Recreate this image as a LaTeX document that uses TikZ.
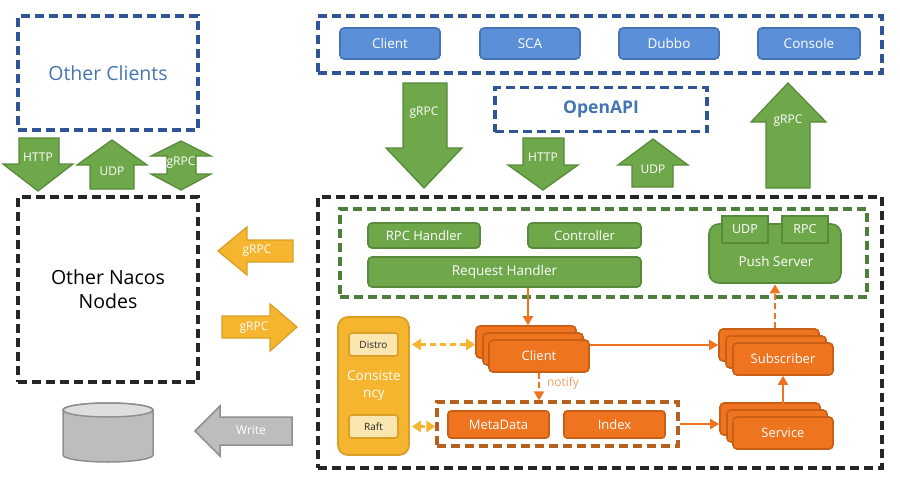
\documentclass[tikz,border=0pt]{standalone}
\usepackage{fontspec}
\setmainfont{Open Sans}
\usetikzlibrary{arrows.meta}
\definecolor{gfill}{HTML}{6FA84B}
\definecolor{gline}{HTML}{578A3A}
\definecolor{gdash}{HTML}{4E7F3A}
\definecolor{bfill}{HTML}{5B90D8}
\definecolor{bline}{HTML}{4474B4}
\definecolor{bdash}{HTML}{2F5597}
\definecolor{ofill}{HTML}{EE7420}
\definecolor{oline}{HTML}{C85F14}
\definecolor{odash}{HTML}{B5601F}
\definecolor{yfill}{HTML}{F5B52E}
\definecolor{yline}{HTML}{D9A028}
\definecolor{ylight}{HTML}{FBE6B0}
\definecolor{gyfill}{HTML}{BDBDBD}
\definecolor{gyline}{HTML}{8F8F8F}
\tikzset{
  lbl/.style={text=white,font=\fontsize{#1}{#1}\selectfont,inner sep=0pt},
  lbl/.default=12,
  dbox/.style={draw=#1,line width=3.2pt,dash pattern=on 9pt off 5pt,fill=none},
  btn/.style={draw=bline,fill=bfill,line width=1.6pt,rounded corners=4pt,text=white,font=\fontsize{13.5}{13.5}\selectfont,minimum width=100pt,minimum height=31pt,inner sep=0pt},
  gbox/.style={draw=gline,fill=gfill,line width=1.6pt,rounded corners=4pt,text=white,font=\fontsize{13}{13}\selectfont,inner sep=0pt},
  obox/.style={draw=oline,fill=ofill,line width=1.6pt,rounded corners=4pt,text=white,font=\fontsize{13}{13}\selectfont,inner sep=0pt,minimum width=100pt,minimum height=32pt},
  ibox/.style={draw=oline,fill=ofill,line width=1.6pt,rounded corners=3pt,text=white,font=\fontsize{13}{13}\selectfont,inner sep=0pt,minimum width=101pt,minimum height=27pt},
  tabbox/.style={draw=gline,fill=gfill,line width=1.6pt,text=white,font=\fontsize{12.5}{12.5}\selectfont,inner sep=0pt,minimum width=46pt,minimum height=27pt},
  ylbox/.style={draw=yline,fill=ylight,line width=1.6pt,rounded corners=3pt,text=black!85,font=\fontsize{10}{10}\selectfont,inner sep=0pt,minimum width=49pt,minimum height=23pt},
  garrow/.style={draw=gline,fill=gfill,line width=1.3pt},
  yarrow/.style={draw=yline,fill=yfill,line width=1.3pt},
  grarrow/.style={draw=gyline,fill=gyfill,line width=1.5pt},
  oconn/.style={draw=ofill,line width=2pt,-{Triangle[length=9pt,width=10pt]}},
  odashed/.style={oconn,dash pattern=on 6pt off 3.5pt},
  yconn/.style={draw=yfill,line width=2.2pt,dash pattern=on 6pt off 4pt,{Triangle[length=9pt,width=11pt]}-{Triangle[length=9pt,width=11pt]}},
}
\begin{document}
\begin{tikzpicture}[x=1pt,y=-1pt]
\useasboundingbox (0,0) rectangle (900,479);
% dashed frames
\node[dbox=bdash,minimum width=180pt,minimum height=114pt,inner sep=0pt,text=bline,font=\fontsize{19.5}{19.5}\selectfont] (clients) at (108,73) {Other Clients};
\node[dbox=bdash,minimum width=564pt,minimum height=57pt,inner sep=0pt] (topframe) at (600,44.5) {};
\node[dbox=bdash,minimum width=212pt,minimum height=44pt,inner sep=0pt,text=bline,font=\bfseries\fontsize{17.5}{17.5}\selectfont] (openapi) at (601,109.5) {OpenAPI};
\node[dbox=black!85,minimum width=180pt,minimum height=185pt,inner sep=0pt,align=center,text=black,font=\fontsize{19.5}{24}\selectfont] (nacos) at (108,289.5) {Other Nacos\\Nodes};
\node[dbox=black!85,minimum width=564pt,minimum height=271pt,inner sep=0pt] (mainframe) at (600,332.5) {};
\node[dbox=gdash,minimum width=527pt,minimum height=88pt,inner sep=0pt] (gframe) at (603.5,253) {};
% top buttons
\node[btn] (bclient) at (390,43.5) {Client};
\node[btn] (bsca) at (530,43.5) {SCA};
\node[btn] (bdubbo) at (669,43.5) {Dubbo};
\node[btn,minimum width=102pt] (bconsole) at (809,43.5) {Console};
% block arrows, top
\draw[garrow] (403,83) -- (447,83) -- (447,148) -- (462,148) -- (424,188) -- (386,148) -- (403,148) -- cycle;
\node[lbl] (a1) at (424,113) {gRPC};
\draw[garrow] (523,138) -- (564,138) -- (564,165) -- (578,165) -- (543,190) -- (508,165) -- (523,165) -- cycle;
\node[lbl] (a2) at (543,157) {HTTP};
\draw[garrow] (632,187) -- (673,187) -- (673,165) -- (688,165) -- (653,139) -- (618,165) -- (632,165) -- cycle;
\node[lbl] (a3) at (653,169) {UDP};
\draw[garrow] (766,188) -- (810,188) -- (810,122) -- (826,122) -- (788,83) -- (751,122) -- (766,122) -- cycle;
\node[lbl] (a4) at (788,121) {gRPC};
% block arrows, left
\draw[garrow] (19,138) -- (59,138) -- (59,164) -- (73,164) -- (38,191) -- (3,164) -- (19,164) -- cycle;
\node[lbl] (a5) at (38,157) {HTTP};
\draw[garrow] (90,189) -- (134,189) -- (134,165) -- (147,165) -- (112,140) -- (77,165) -- (90,165) -- cycle;
\node[lbl] (a6) at (112,171) {UDP};
\draw[garrow] (181,141) -- (211,156) -- (196,156) -- (196,174) -- (211,174) -- (181,190) -- (151,174) -- (167,174) -- (167,156) -- (151,156) -- cycle;
\node[lbl] (a7) at (181,163) {gRPC};
% yellow and grey arrows
\draw[yarrow] (218,251) -- (247,227) -- (247,240) -- (293,240) -- (293,262) -- (247,262) -- (247,275) -- cycle;
\node[lbl] (a8) at (257,251) {gRPC};
\draw[yarrow] (297,327) -- (270,304) -- (270,316) -- (222,316) -- (222,338) -- (270,338) -- (270,351) -- cycle;
\node[lbl] (a9) at (254,328) {gRPC};
\draw[grarrow] (195,431) -- (220,406) -- (220,417) -- (292,417) -- (292,445) -- (220,445) -- (220,456) -- cycle;
\node[lbl] (a10) at (251,430) {Write};
% database
\draw[grarrow,fill=gyfill] (63,410) -- (63,455) arc[start angle=180,end angle=360,x radius=45pt,y radius=7pt] -- (153,410) arc[start angle=0,end angle=180,x radius=45pt,y radius=7pt] -- cycle;
\draw[grarrow,fill=black!13] (108,410) ellipse[x radius=45pt,y radius=7pt];
% green components
\node[gbox,minimum width=112pt,minimum height=25pt] (rpch) at (424,235.5) {RPC Handler};
\node[gbox,minimum width=113pt,minimum height=25pt] (ctrl) at (584.5,235.5) {Controller};
\node[gbox,minimum width=273pt,minimum height=30pt,font=\fontsize{13.5}{13.5}\selectfont] (req) at (504.5,272) {Request Handler};
\node[gbox,rounded corners=10pt,minimum width=132pt,minimum height=59pt] (push) at (775,253.5) {};
\node[lbl=13.5] (pushlbl) at (776,261) {Push Server};
\node[tabbox] (tudp) at (745,229.5) {UDP};
\node[tabbox] (trpc) at (805,229.5) {RPC};
% consistency
\node[draw=yline,fill=yfill,line width=1.8pt,rounded corners=10pt,minimum width=71pt,minimum height=138pt,inner sep=0pt] (cons) at (373.5,386) {};
\node[align=center,text=white,inner sep=0pt,font=\fontsize{13.5}{17}\selectfont] (conslbl) at (374,385.5) {Consiste\\ncy};
\node[ylbox] (distro) at (373.5,344.5) {Distro};
\node[ylbox] (raft) at (373.5,426.5) {Raft};
% orange stacks
\node[obox] (c1) at (526,342) {};
\node[obox] (c2) at (533,349) {};
\node[obox] (c3) at (539,356) {Client};
\node[obox] (s1) at (769,345) {};
\node[obox] (s2) at (776,352) {};
\node[obox] (s3) at (783,359) {Subscriber};
\node[obox] (v1) at (770,419) {};
\node[obox] (v2) at (777,426) {};
\node[obox] (v3) at (783,433) {Service};
% metadata frame
\node[dbox=odash,minimum width=241pt,minimum height=44pt,inner sep=0pt] (mframe) at (557.5,424) {};
\node[ibox] (meta) at (498.5,424.5) {MetaData};
\node[ibox] (index) at (614.5,424.5) {Index};
% connectors
\draw[oconn] ([xshift=23.5pt]req.south) -- ([xshift=2pt]c1.north);
\draw[oconn] ([yshift=11pt]c3.east) -- (s1.west);
\draw[odashed] (c3.south) -- ([xshift=-18.5pt]mframe.north);
\node[text=ofill!70,font=\fontsize{12}{12}\selectfont,inner sep=0pt] (notify) at (563,383) {notify};
\draw[oconn] (mframe.east) -- (v1.west |- mframe.east);
\draw[oconn] (v2.north -| v3.north) -- (s3.south);
\draw[odashed] ([xshift=6pt]s1.north) -- ([yshift=-0.5pt]push.south);
\draw[yconn] ([xshift=2pt]cons.east |- distro.east) -- (c1.west |- distro.east);
\draw[yconn,dash pattern=on 5pt off 3pt] ([xshift=2pt]cons.east |- raft.east) -- (mframe.west |- raft.east);
\end{tikzpicture}
\end{document}
